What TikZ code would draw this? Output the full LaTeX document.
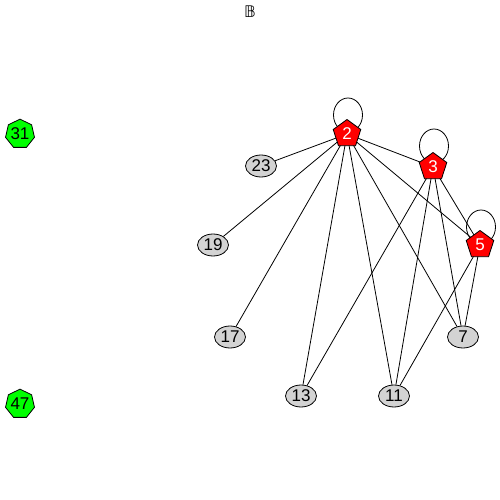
\documentclass[tikz,border=0pt]{standalone}
\usepackage{fontspec}
\setmainfont{Liberation Sans}
\newfontfamily\symfont{DejaVu Sans}
\usetikzlibrary{shapes.geometric}
\begin{document}
\begin{tikzpicture}[x=1pt,y=-1pt,
  every node/.style={font=\fontsize{17}{17}\selectfont},
  gnode/.style={ellipse,draw,line width=0.8pt,fill={rgb,255:red,211;green,211;blue,211},minimum width=31pt,minimum height=22pt,inner sep=0pt},
  rnode/.style={regular polygon,regular polygon sides=5,draw,line width=0.8pt,fill=red,text=white,minimum size=29pt,inner sep=0pt},
  hnode/.style={regular polygon,regular polygon sides=7,draw,line width=0.8pt,fill={rgb,255:red,0;green,255;blue,0},minimum size=29pt,inner sep=0pt},
  edgeline/.style={draw,line width=0.8pt}]
\useasboundingbox (0,0) rectangle (500,500);
\node[font=\symfont\fontsize{16}{16}\selectfont] (title) at (250,12) {𝔹};
\node[hnode] (n31) at (20,134) {31};
\node[hnode] (n47) at (20,404) {47};
\node[gnode] (n23) at (261,166) {23};
\node[gnode] (n19) at (213,245) {19};
\node[gnode] (n17) at (230,337) {17};
\node[gnode] (n13) at (301,396) {13};
\node[gnode] (n11) at (394,396) {11};
\node[gnode] (n7) at (463,337) {7};
\coordinate (c2) at (347,134);
\coordinate (c3) at (433,167);
\coordinate (c5) at (480,245);
\begin{scope}[edgeline]
\draw (c2) ++(1,-19) ellipse[x radius=14.5,y radius=17];
\draw (c3) ++(1,-21) ellipse[x radius=14.5,y radius=17];
\draw (c5) ++(1,-18) ellipse[x radius=14.5,y radius=17];
\draw (c2) -- (n23);
\draw (c2) -- (n19);
\draw (c2) -- (n17);
\draw (c2) -- (n13);
\draw (c2) -- (n11);
\draw (c2) -- (n7);
\draw (c2) -- (c3);
\draw (c2) -- (c5);
\draw (c3) -- (n13);
\draw (c3) -- (n11);
\draw (c3) -- (n7);
\draw (c3) -- (c5);
\draw (c5) -- (n11);
\draw (c5) -- (n7);
\end{scope}
\node[rnode] (n2) at (c2) {2};
\node[rnode] (n3) at (c3) {3};
\node[rnode] (n5) at (c5) {5};
\end{tikzpicture}
\end{document}
